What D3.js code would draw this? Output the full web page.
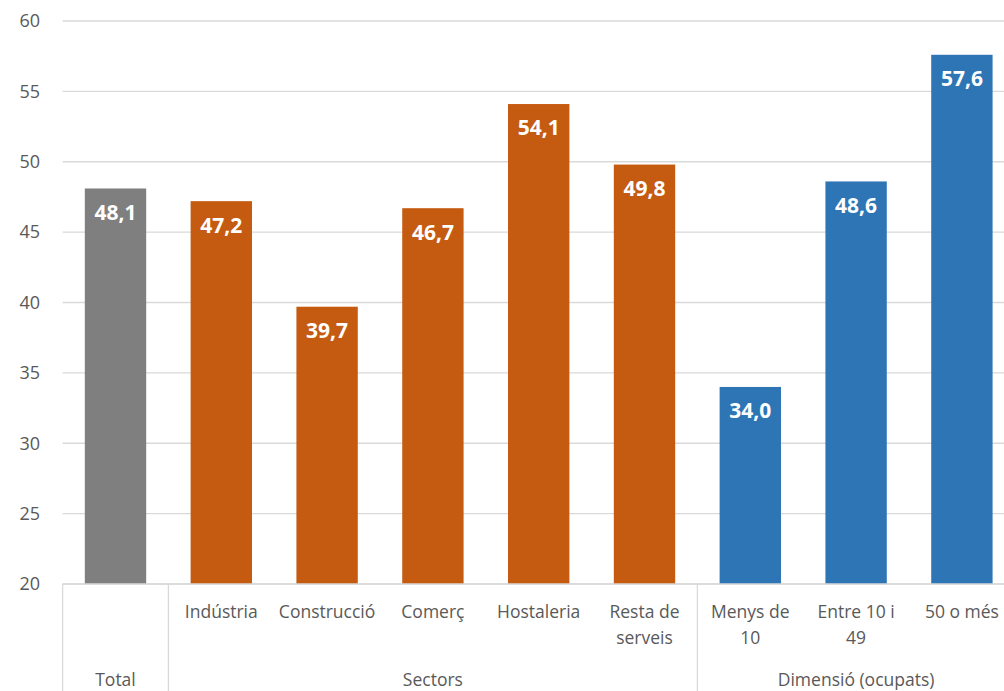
<!DOCTYPE html>
<html><head><meta charset="utf-8">
<script src="https://cdn.jsdelivr.net/npm/d3@7"></script>
<style>body{margin:0;background:#fff}svg{display:block}text{font-family:"Open Sans",sans-serif}</style>
</head><body><svg id="c" width="1004" height="691"></svg>
<script>
const categories = ["Total","Indústria","Construcció","Comerç","Hostaleria","Resta de serveis","Menys de 10","Entre 10 i 49","50 o més"];
const values = [48.1,47.2,39.7,46.7,54.1,49.8,34.0,48.6,57.6];
const groups = ["total","sector","sector","sector","sector","sector","dim","dim","dim"];
const groupLabels = [{name:"Total",from:0,to:0},{name:"Sectors",from:1,to:5},{name:"Dimensió (ocupats)",from:6,to:8}];
const yTicks = [20,25,30,35,40,45,50,55,60];
const colors = {total:"#7f7f7f",sector:"#c55a11",dim:"#2e75b6"};
const catLines = {"Resta de serveis":["Resta de","serveis"],"Menys de 10":["Menys de","10"],"Entre 10 i 49":["Entre 10 i","49"]};

(function(){
const svg = d3.select("#c");
const pl = 62.6, pr = 1014.8, pt = 21, pb = 584;
const x = d3.scaleBand().domain(categories).range([pl,pr]).paddingInner(0.42).paddingOuter(0.21);
const y = d3.scaleLinear().domain([20,60]).range([pb,pt]);

svg.append("g").selectAll("line").data(yTicks).join("line")
  .attr("x1",pl).attr("x2",1004).attr("y1",d=>y(d)).attr("y2",d=>y(d))
  .attr("stroke","#d9d9d9").attr("stroke-width",1.3);

svg.append("g").selectAll("text").data(yTicks).join("text")
  .attr("x",40).attr("y",d=>y(d)).attr("dy","0.35em").attr("text-anchor","end")
  .attr("fill","#595959").attr("font-size",18).text(d=>d);

svg.append("g").selectAll("rect").data(values).join("rect")
  .attr("x",(d,i)=>x(categories[i])).attr("width",x.bandwidth())
  .attr("y",d=>y(d)).attr("height",d=>pb-y(d))
  .attr("fill",(d,i)=>colors[groups[i]]);

svg.append("g").selectAll("text").data(values).join("text")
  .attr("x",(d,i)=>x(categories[i])+x.bandwidth()/2).attr("y",d=>y(d)+24).attr("dy","0.35em")
  .attr("text-anchor","middle").attr("fill","#fff").attr("font-weight","bold").attr("font-size",21)
  .text(d=>d.toFixed(1).replace(".",","));

svg.append("line").attr("x1",pl).attr("x2",1004).attr("y1",pb).attr("y2",pb).attr("stroke","#d9d9d9").attr("stroke-width",1.3);

const step = x.step();
const sepX = [pl, pl+step*1, pl+step*6];
svg.append("g").selectAll("line").data(sepX).join("line")
  .attr("x1",d=>d).attr("x2",d=>d).attr("y1",pb).attr("y2",691)
  .attr("stroke","#d9d9d9").attr("stroke-width",1.3);

const cl = svg.append("g");
categories.forEach((c,i)=>{
  if(i===0) return;
  const lines = catLines[c] || [c];
  const cx = x(c)+x.bandwidth()/2;
  const t = cl.append("text").attr("text-anchor","middle").attr("fill","#595959").attr("font-size",17.5);
  lines.forEach((l,k)=>t.append("tspan").attr("x",cx).attr("y",618+k*26).text(l));
});
svg.append("g").selectAll("text").data(groupLabels).join("text")
  .attr("x",d=>(x(categories[d.from])+x(categories[d.to])+x.bandwidth())/2)
  .attr("y",686).attr("text-anchor","middle").attr("fill","#595959").attr("font-size",17.5)
  .text(d=>d.name);
})();
</script></body></html>
